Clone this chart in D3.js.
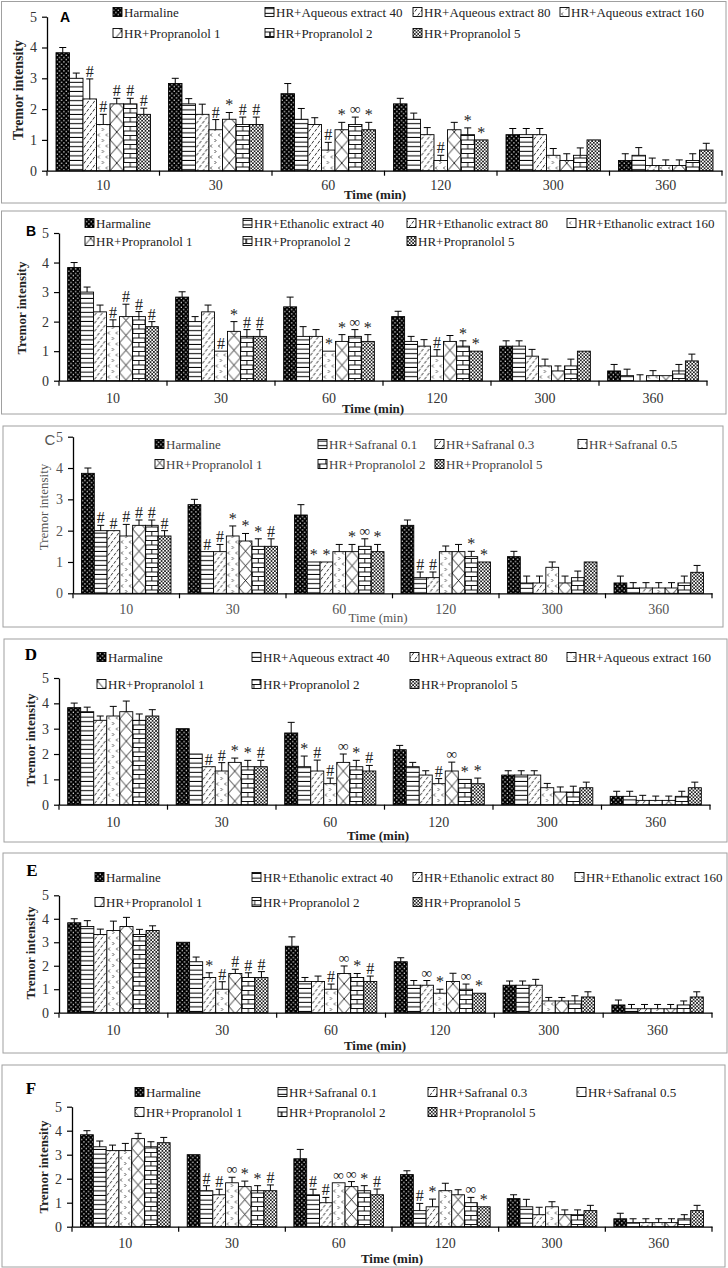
<!DOCTYPE html>
<html><head><meta charset="utf-8">
<script src="https://cdn.jsdelivr.net/npm/d3@7"></script>
<style>body{margin:0;background:#fff}svg{display:block}</style>
</head><body>
<svg id="chart" width="728" height="1268"></svg>
<script>
// ---------- DATA ----------
const categories = ["10", "30", "60", "120", "300", "360"];
const yTicks = [0, 1, 2, 3, 4, 5];
const xTitle = "Time (min)";
const yTitle = "Tremor intensity";

const seriesA = ["Harmaline", "HR+Aqueous extract 40", "HR+Aqueous extract 80", "HR+Aqueous extract 160", "HR+Propranolol 1", "HR+Propranolol 2", "HR+Propranolol 5"];
const seriesB = ["Harmaline", "HR+Ethanolic extract 40", "HR+Ethanolic extract 80", "HR+Ethanolic extract 160", "HR+Propranolol 1", "HR+Propranolol 2", "HR+Propranolol 5"];
const seriesC = ["Harmaline", "HR+Safranal 0.1", "HR+Safranal 0.3", "HR+Safranal 0.5", "HR+Propranolol 1", "HR+Propranolol 2", "HR+Propranolol 5"];
const seriesD = seriesA;
const seriesE = seriesB;
const seriesF = seriesC;

// means: one row per series, one value per category
const meanA = [
  [3.83, 2.83, 2.5, 2.17, 1.17, 0.33],
  [3.0, 2.17, 1.67, 1.67, 1.17, 0.5],
  [2.33, 1.83, 1.5, 1.17, 1.17, 0.17],
  [1.5, 1.33, 0.67, 0.33, 0.5, 0.17],
  [2.17, 1.67, 1.33, 1.33, 0.33, 0.17],
  [2.17, 1.5, 1.5, 1.17, 0.5, 0.33],
  [1.83, 1.5, 1.33, 1.0, 1.0, 0.67]];
const errA = [
  [0.17, 0.17, 0.33, 0.18, 0.2, 0.22],
  [0.17, 0.17, 0.35, 0.2, 0.2, 0.25],
  [0.65, 0.33, 0.22, 0.23, 0.2, 0.24],
  [0.33, 0.33, 0.25, 0.17, 0.22, 0.18],
  [0.18, 0.22, 0.24, 0.24, 0.22, 0.18],
  [0.18, 0.24, 0.24, 0.22, 0.24, 0.22],
  [0.2, 0.24, 0.24, 0, 0, 0.22]];
const meanB = [
  [3.83, 2.83, 2.5, 2.17, 1.17, 0.33],
  [3.0, 2.0, 1.5, 1.33, 1.17, 0.17],
  [2.33, 2.33, 1.5, 1.17, 0.83, 0],
  [1.83, 1.0, 1.0, 0.83, 0.5, 0.17],
  [2.17, 1.67, 1.33, 1.33, 0.33, 0.17],
  [2.17, 1.5, 1.5, 1.17, 0.5, 0.33],
  [1.83, 1.5, 1.33, 1.0, 1.0, 0.67]];
const errB = [
  [0.17, 0.18, 0.33, 0.18, 0.18, 0.22],
  [0.17, 0.17, 0.33, 0.17, 0.18, 0.22],
  [0.23, 0.23, 0.23, 0.22, 0.23, 0.2],
  [0.23, 0, 0, 0.22, 0.23, 0.17],
  [0.42, 0.33, 0.23, 0.2, 0.17, 0],
  [0.17, 0.23, 0.23, 0.18, 0.23, 0.22],
  [0.17, 0.23, 0.23, 0, 0, 0.23]];
const meanC = [
  [3.83, 2.83, 2.5, 2.17, 1.17, 0.33],
  [2.0, 1.33, 1.0, 0.5, 0.33, 0.17],
  [2.0, 1.33, 1.0, 0.5, 0.33, 0.17],
  [1.83, 1.83, 1.33, 1.33, 0.83, 0.17],
  [2.17, 1.67, 1.33, 1.33, 0.33, 0.17],
  [2.17, 1.5, 1.5, 1.17, 0.5, 0.33],
  [1.83, 1.5, 1.33, 1.0, 1.0, 0.67]];
const errC = [
  [0.17, 0.17, 0.33, 0.17, 0.17, 0.22],
  [0.17, 0, 0, 0.18, 0.22, 0.17],
  [0, 0.23, 0, 0.18, 0.22, 0.17],
  [0.37, 0.32, 0.23, 0.18, 0.17, 0.17],
  [0.17, 0.24, 0.23, 0.23, 0.22, 0.17],
  [0.17, 0.24, 0.24, 0.17, 0.21, 0.22],
  [0.17, 0.24, 0.23, 0, 0, 0.22]];
const meanD = [
  [3.83, 3.0, 2.83, 2.17, 1.17, 0.33],
  [3.67, 2.0, 1.5, 1.5, 1.17, 0.33],
  [3.33, 1.5, 1.33, 1.17, 1.17, 0.17],
  [3.5, 1.33, 0.83, 0.83, 0.67, 0.17],
  [3.67, 1.67, 1.67, 1.33, 0.5, 0.17],
  [3.33, 1.5, 1.5, 1.0, 0.5, 0.33],
  [3.5, 1.5, 1.33, 0.83, 0.67, 0.67]];
const errD = [
  [0.18, 0, 0.42, 0.17, 0.17, 0.2],
  [0.18, 0, 0.42, 0.17, 0.17, 0.2],
  [0.17, 0, 0.43, 0.17, 0.17, 0.2],
  [0.38, 0.33, 0.22, 0.2, 0.17, 0.17],
  [0.42, 0.17, 0.33, 0.35, 0.2, 0.17],
  [0.25, 0.25, 0.25, 0, 0.23, 0.2],
  [0.25, 0.25, 0.22, 0.22, 0.22, 0.22]];
const meanE = [
  [3.83, 3.0, 2.83, 2.17, 1.17, 0.33],
  [3.67, 2.17, 1.33, 1.17, 1.17, 0.17],
  [3.33, 1.5, 1.33, 1.17, 1.17, 0.17],
  [3.5, 1.0, 1.0, 0.83, 0.5, 0.17],
  [3.67, 1.67, 1.67, 1.33, 0.5, 0.17],
  [3.33, 1.5, 1.5, 1.0, 0.5, 0.33],
  [3.5, 1.5, 1.33, 0.83, 0.67, 0.67]];
const errE = [
  [0.17, 0, 0.4, 0.17, 0.18, 0.21],
  [0.25, 0.2, 0.17, 0.2, 0.18, 0.18],
  [0.23, 0.2, 0.23, 0.2, 0.25, 0.18],
  [0.4, 0.32, 0.22, 0.17, 0.15, 0.18],
  [0.39, 0.18, 0.32, 0.35, 0.15, 0.18],
  [0.22, 0.2, 0.17, 0.22, 0.22, 0.17],
  [0.2, 0.25, 0.23, 0, 0.22, 0.22]];
const meanF = [
  [3.83, 3.0, 2.83, 2.17, 1.17, 0.33],
  [3.33, 1.5, 1.33, 0.67, 0.83, 0.17],
  [3.17, 1.33, 1.0, 0.83, 0.5, 0.17],
  [3.17, 1.83, 1.83, 1.5, 0.83, 0.17],
  [3.67, 1.67, 1.67, 1.33, 0.5, 0.17],
  [3.33, 1.5, 1.5, 1.0, 0.5, 0.33],
  [3.5, 1.5, 1.33, 0.83, 0.67, 0.67]];
const errF = [
  [0.17, 0, 0.39, 0.16, 0.16, 0.23],
  [0.24, 0.21, 0.23, 0.3, 0.31, 0.16],
  [0.23, 0.23, 0.22, 0.32, 0.31, 0.16],
  [0.3, 0.23, 0, 0.31, 0.21, 0.16],
  [0.22, 0.23, 0.21, 0.21, 0.2, 0.16],
  [0.21, 0.21, 0.21, 0.22, 0.2, 0.17],
  [0.22, 0.24, 0.24, 0, 0.22, 0.22]];

// significance marks: one row per category, one entry per series
const sigA = [
  ["", "", "#", "#", "#", "#", "#"],
  ["", "", "", "#", "*", "#", "#"],
  ["", "", "", "#", "*", "∞", "*"],
  ["", "", "", "#", "", "*", "*"],
  ["", "", "", "", "", "", ""],
  ["", "", "", "", "", "", ""]];
const sigB = [
  ["", "", "", "#", "#", "#", "#"],
  ["", "", "", "#", "*", "#", "#"],
  ["", "", "", "*", "*", "∞", "*"],
  ["", "", "", "#", "", "*", "*"],
  ["", "", "", "", "", "", ""],
  ["", "", "", "", "", "", ""]];
const sigC = [
  ["", "#", "#", "#", "#", "#", "#"],
  ["", "#", "#", "*", "*", "*", "#"],
  ["", "*", "*", "", "*", "∞", "*"],
  ["", "#", "#", "", "", "*", "*"],
  ["", "", "", "", "", "", ""],
  ["", "", "", "", "", "", ""]];
const sigD = [
  ["", "", "", "", "", "", ""],
  ["", "", "#", "#", "*", "*", "#"],
  ["", "*", "#", "#", "∞", "*", "#"],
  ["", "", "", "#", "∞", "*", "*"],
  ["", "", "", "", "", "", ""],
  ["", "", "", "", "", "", ""]];
const sigE = [
  ["", "", "", "", "", "", ""],
  ["", "", "*", "#", "#", "#", "#"],
  ["", "", "", "#", "∞", "*", "#"],
  ["", "", "∞", "*", "", "∞", "*"],
  ["", "", "", "", "", "", ""],
  ["", "", "", "", "", "", ""]];
const sigF = [
  ["", "", "", "", "", "", ""],
  ["", "#", "#", "∞", "*", "*", "#"],
  ["", "#", "#", "∞", "∞", "*", "#"],
  ["", "#", "*", "", "", "∞", "*"],
  ["", "", "", "", "", "", ""],
  ["", "", "", "", "", "", ""]];

// ---------- LAYOUT ----------
const SERIF = "'Liberation Serif','Times New Roman',serif";
const SANS = "'Liberation Sans',Arial,sans-serif";
const panels = [
  {key: "A", series: seriesA, mean: meanA, err: errA, sig: sigA,
   L: {box: [1.5, 1.5, 726, 203], left: 47, right: 722, y0: 170.7, y5: 16.7, cols: [113, 265, 413, 560], rows: [12, 33],
       letter: {x: 65, y: 17, font: "bold 14px " + SANS, fill: "#000"}, yT: {x: 18, y: 90, weight: "bold", size: 14},
       xT: {x: 375, y: 194, weight: "bold"}, catY: 185, color: "#333"}},
  {key: "B", series: seriesB, mean: meanB, err: errB, sig: sigB,
   L: {box: [1.5, 211, 726, 414], left: 59, right: 707, y0: 380.7, y5: 233, cols: [85, 243, 407, 567], rows: [223, 241],
       letter: {x: 31, y: 231, font: "bold 14px " + SANS, fill: "#000"}, yT: {x: 21, y: 308, weight: "bold", size: 13},
       xT: {x: 373, y: 408, weight: "bold"}, catY: 398, color: "#333"}},
  {key: "C", series: seriesC, mean: meanC, err: errC, sig: sigC,
   L: {box: [3, 426, 723, 627], left: 73, right: 712, y0: 593.3, y5: 436.7, cols: [155, 318, 435, 578], rows: [444, 464],
       letter: {x: 50, y: 439, font: "15px " + SANS, fill: "#555"}, yT: {x: 43, y: 507, weight: "normal", size: 13},
       xT: {x: 378, y: 617, weight: "normal"}, catY: 609, color: "#555"}},
  {key: "D", series: seriesD, mean: meanD, err: errD, sig: sigD,
   L: {box: [4, 639, 727, 842], left: 59, right: 710, y0: 804.7, y5: 678, cols: [97, 252, 410, 567], rows: [657, 684],
       letter: {x: 31, y: 654, font: "bold 17px " + SERIF, fill: "#000"}, yT: {x: 30, y: 740, weight: "bold", size: 13},
       xT: {x: 378, y: 835, weight: "bold"}, catY: 822, color: "#333"}},
  {key: "E", series: seriesE, mean: meanE, err: errE, sig: sigE,
   L: {box: [3, 853, 727, 1053], left: 59, right: 712, y0: 1012.7, y5: 895.3, cols: [95, 252, 413, 575], rows: [877, 902],
       letter: {x: 32, y: 870, font: "bold 17px " + SERIF, fill: "#000"}, yT: {x: 30, y: 953, weight: "bold", size: 13},
       xT: {x: 375, y: 1045, weight: "bold"}, catY: 1030, color: "#333"}},
  {key: "F", series: seriesF, mean: meanF, err: errF, sig: sigF,
   L: {box: [2, 1065, 725, 1267], left: 72, right: 712, y0: 1226.7, y5: 1106.7, cols: [135, 278, 428, 577], rows: [1092, 1112],
       letter: {x: 31, y: 1088, font: "bold 17px " + SERIF, fill: "#000"}, yT: {x: 43, y: 1167, weight: "bold", size: 13},
       xT: {x: 392, y: 1258, weight: "bold"}, catY: 1243, color: "#333"}}
];

const svg = d3.select("#chart");
const defs = svg.append("defs");

function makePatterns(key, bw) {
  const mk = (id, w, h) => defs.append("pattern").attr("id", id).attr("patternUnits", "userSpaceOnUse")
      .attr("width", w).attr("height", h);
  // 0 dots on black
  let p = mk(`p${key}0`, 4.5, 4.5);
  p.append("rect").attr("width", 4.5).attr("height", 4.5).attr("fill", "#000");
  p.append("rect").attr("x", 0.6).attr("y", 0.6).attr("width", 1.2).attr("height", 1.2).attr("fill", "#fff");
  p.append("rect").attr("x", 2.85).attr("y", 2.85).attr("width", 1.2).attr("height", 1.2).attr("fill", "#fff");
  // 1 horizontal stripes
  p = mk(`p${key}1`, 4, 4.6);
  p.append("rect").attr("width", 4).attr("height", 4.6).attr("fill", "#fff");
  p.append("rect").attr("y", 3.6).attr("width", 4).attr("height", 1).attr("fill", "#000");
  // 2 wide diagonal dashes
  p = mk(`p${key}2`, 6, 8);
  p.append("rect").attr("width", 6).attr("height", 8).attr("fill", "#fff");
  p.append("path").attr("d", "M0.8,3.6 L2.8,0.8 M3.8,7.6 L5.8,4.8").attr("stroke", "#000").attr("stroke-width", 0.8).attr("fill", "none");
  // 3 sparse chevrons
  p = mk(`p${key}3`, 8, 11);
  p.append("rect").attr("width", 8).attr("height", 11).attr("fill", "#fff");
  p.append("path").attr("d", "M3,1.5 L1.5,3 L3,4.5 M5.5,7 L7,8.5 L5.5,10").attr("stroke", "#000").attr("stroke-width", 0.7).attr("fill", "none");
  // 4 large X
  const h4 = bw * 1.15;
  p = mk(`p${key}4`, bw, h4);
  p.append("rect").attr("width", bw).attr("height", h4).attr("fill", "#fff");
  p.append("path").attr("d", `M0,0 L${bw},${h4} M${bw},0 L0,${h4}`).attr("stroke", "#000").attr("stroke-width", 0.8).attr("fill", "none");
  // 5 bricks
  const w5 = bw / 2;
  p = mk(`p${key}5`, bw, 9);
  p.append("rect").attr("width", bw).attr("height", 9).attr("fill", "#fff");
  p.append("path").attr("d", `M0,0.5 H${bw} M0,5 H${bw} M${w5},0.5 V5 M0.3,5 V9 M${bw - 0.3},5 V9`)
    .attr("stroke", "#000").attr("stroke-width", 0.9).attr("fill", "none");
  // 6 fine diamond grid
  p = mk(`p${key}6`, 3.4, 3.4);
  p.append("rect").attr("width", 3.4).attr("height", 3.4).attr("fill", "#fff");
  p.append("path").attr("d", "M0,0 L3.4,3.4 M3.4,0 L0,3.4").attr("stroke", "#000").attr("stroke-width", 0.75).attr("fill", "none");
}

function drawPanel(P) {
  const L = P.L;
  const g = svg.append("g").attr("class", "panel-" + P.key);
  g.append("rect").attr("x", L.box[0]).attr("y", L.box[1]).attr("width", L.box[2] - L.box[0])
    .attr("height", L.box[3] - L.box[1]).attr("fill", "none").attr("stroke", "#a0a0a0").attr("stroke-width", 1);

  const x = d3.scaleBand().domain(categories).range([L.left, L.right]).paddingInner(0.16).paddingOuter(0.08);
  const xs = d3.scaleBand().domain(d3.range(P.series.length)).range([0, x.bandwidth()]);
  const y = d3.scaleLinear().domain([0, 5]).range([L.y0, L.y5]);
  const bw = xs.bandwidth();
  makePatterns(P.key, bw);

  // bars
  P.series.forEach((s, si) => {
    categories.forEach((c, ci) => {
      const v = P.mean[si][ci];
      const e = P.err[si][ci];
      const bx = x(c) + xs(si);
      const bg = g.append("g").attr("transform", `translate(${bx},0)`);
      if (v > 0) {
        bg.append("rect").attr("x", 0).attr("y", y(v)).attr("width", bw).attr("height", y(0) - y(v))
          .attr("fill", `url(#p${P.key}${si})`).attr("stroke", "#000").attr("stroke-width", 0.9);
      }
      if (e > 0) {
        const cx = bw / 2;
        bg.append("path").attr("d", `M${cx},${y(v)} V${y(v + e)} M${cx - 3.5},${y(v + e)} H${cx + 3.5}`)
          .attr("stroke", "#000").attr("stroke-width", 1).attr("fill", "none");
      }
      const mark = P.sig[ci][si];
      if (mark) {
        bg.append("text").attr("x", bw / 2).attr("y", y(v + e) - (mark === "∞" ? 3 : 2))
          .attr("text-anchor", "middle").attr("font-family", SERIF)
          .attr("font-size", mark === "∞" ? 15 : 16).attr("fill", "#222").text(mark);
      }
    });
  });

  // y axis
  const ya = g.append("g").attr("transform", `translate(${L.left},0)`)
    .call(d3.axisLeft(y).tickValues(yTicks).tickSize(5).tickSizeOuter(0).tickPadding(5).tickFormat(d3.format("d")));
  ya.select(".domain").attr("stroke", "#000").attr("stroke-width", 1.3);
  ya.selectAll(".tick line").attr("stroke", "#000").attr("stroke-width", 1.2);
  ya.selectAll(".tick text").attr("font-family", SERIF).attr("font-size", 14).attr("fill", L.color);

  // x axis
  const fs = 14;
  const xa = g.append("g").attr("transform", `translate(0,${L.y0})`)
    .call(d3.axisBottom(x).tickSize(0).tickSizeOuter(0).tickPadding(L.catY - L.y0 - 0.36 * fs));
  xa.select(".domain").attr("stroke", "#000").attr("stroke-width", 1.3);
  xa.selectAll(".tick text").attr("font-family", SERIF).attr("font-size", fs).attr("fill", L.color);
  const bounds = categories.map(c => x(c) - x.paddingInner() * x.step() / 2).concat([L.right]);
  g.append("g").selectAll("line").data(bounds).join("line")
    .attr("x1", d => d).attr("x2", d => d).attr("y1", L.y0).attr("y2", L.y0 + 5)
    .attr("stroke", "#000").attr("stroke-width", 1.2);

  // titles
  g.append("text").attr("transform", `translate(${L.yT.x},${L.yT.y}) rotate(-90)`)
    .attr("text-anchor", "middle").attr("dominant-baseline", "central")
    .attr("font-family", SERIF).attr("font-weight", L.yT.weight).attr("font-size", L.yT.size)
    .attr("fill", L.yT.weight === "bold" ? "#222" : "#555").text(yTitle);
  g.append("text").attr("x", L.xT.x).attr("y", L.xT.y).attr("text-anchor", "middle").attr("dominant-baseline", "central")
    .attr("font-family", SERIF).attr("font-weight", L.xT.weight).attr("font-size", 13)
    .attr("fill", L.xT.weight === "bold" ? "#222" : "#555").text(xTitle);
  g.append("text").attr("x", L.letter.x).attr("y", L.letter.y).attr("text-anchor", "middle").attr("dominant-baseline", "central")
    .attr("style", `font:${L.letter.font}`).attr("fill", L.letter.fill).text(P.key);

  // legend
  P.series.forEach((s, i) => {
    const col = i < 4 ? i : i - 4;
    const row = i < 4 ? 0 : 1;
    const lx = L.cols[col], ly = L.rows[row];
    g.append("rect").attr("x", lx).attr("y", ly - 4.5).attr("width", 9).attr("height", 9)
      .attr("fill", `url(#p${P.key}${i})`).attr("stroke", "#000").attr("stroke-width", 0.9);
    g.append("text").attr("x", lx + 11).attr("y", ly).attr("dominant-baseline", "central")
      .attr("font-family", SERIF).attr("font-size", 13).attr("fill", P.key === "C" ? "#444" : "#222").text(s);
  });
}

panels.forEach(drawPanel);
</script>
</body></html>
